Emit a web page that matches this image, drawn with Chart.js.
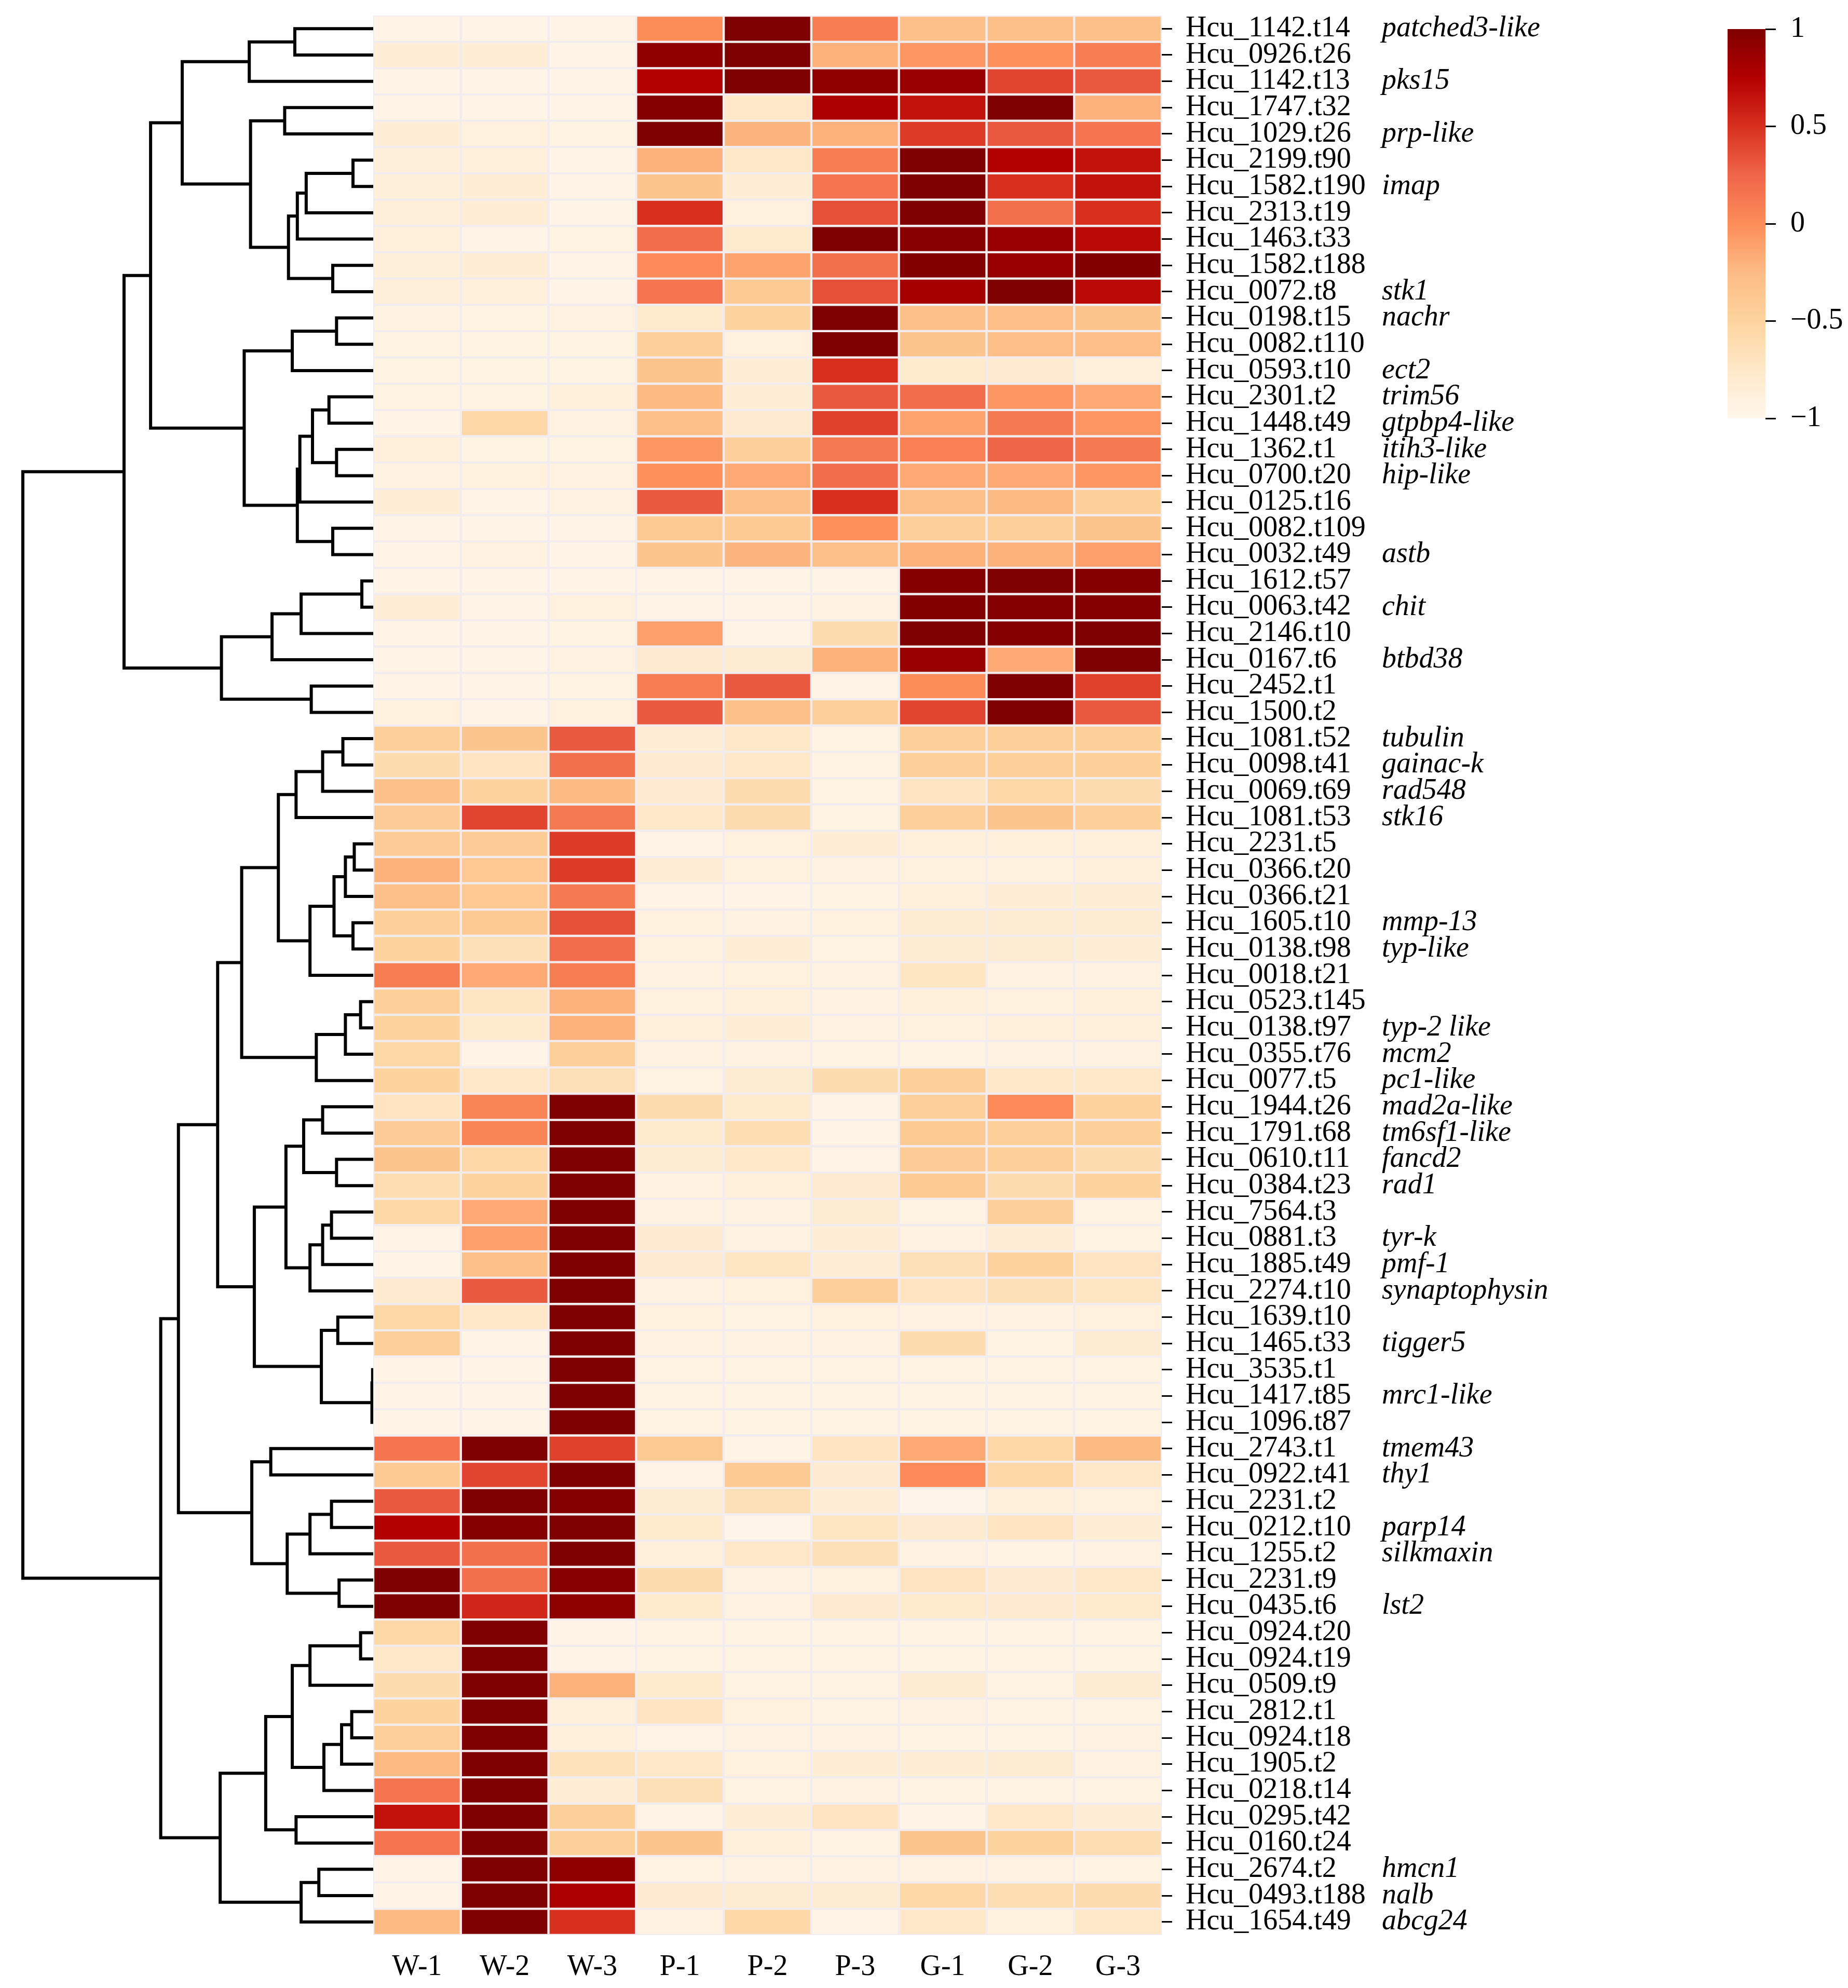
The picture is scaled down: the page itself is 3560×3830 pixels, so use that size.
<!DOCTYPE html>
<html>
<head>
<meta charset="utf-8">
<title>Heatmap</title>
<script src="https://cdn.jsdelivr.net/npm/chart.js@4.4.1/dist/chart.umd.min.js"></script>
<style>
  html, body { margin: 0; padding: 0; background: #fff; }
  body { width: 3560px; height: 3830px; position: relative; overflow: hidden; }
  canvas { position: absolute; top: 0; }
  #tree { left: 0; }
  #heat { left: 700px; }
  #bar { left: 3300px; }
</style>
</head>
<body>
<canvas id="tree" width="730" height="3830" style="width:730px;height:3830px"></canvas>
<canvas id="heat" width="2500" height="3830" style="width:2500px;height:3830px"></canvas>
<canvas id="bar" width="260" height="900" style="width:260px;height:900px"></canvas>
<script>
const sampleNames = ["W-1", "W-2", "W-3", "P-1", "P-2", "P-3", "G-1", "G-2", "G-3"];

const geneIds = ["Hcu_1142.t14", "Hcu_0926.t26", "Hcu_1142.t13", "Hcu_1747.t32", "Hcu_1029.t26",
  "Hcu_2199.t90", "Hcu_1582.t190", "Hcu_2313.t19", "Hcu_1463.t33", "Hcu_1582.t188", "Hcu_0072.t8",
  "Hcu_0198.t15", "Hcu_0082.t110", "Hcu_0593.t10", "Hcu_2301.t2", "Hcu_1448.t49", "Hcu_1362.t1",
  "Hcu_0700.t20", "Hcu_0125.t16", "Hcu_0082.t109", "Hcu_0032.t49", "Hcu_1612.t57", "Hcu_0063.t42",
  "Hcu_2146.t10", "Hcu_0167.t6", "Hcu_2452.t1", "Hcu_1500.t2", "Hcu_1081.t52", "Hcu_0098.t41",
  "Hcu_0069.t69", "Hcu_1081.t53", "Hcu_2231.t5", "Hcu_0366.t20", "Hcu_0366.t21", "Hcu_1605.t10",
  "Hcu_0138.t98", "Hcu_0018.t21", "Hcu_0523.t145", "Hcu_0138.t97", "Hcu_0355.t76", "Hcu_0077.t5",
  "Hcu_1944.t26", "Hcu_1791.t68", "Hcu_0610.t11", "Hcu_0384.t23", "Hcu_7564.t3", "Hcu_0881.t3",
  "Hcu_1885.t49", "Hcu_2274.t10", "Hcu_1639.t10", "Hcu_1465.t33", "Hcu_3535.t1", "Hcu_1417.t85",
  "Hcu_1096.t87", "Hcu_2743.t1", "Hcu_0922.t41", "Hcu_2231.t2", "Hcu_0212.t10", "Hcu_1255.t2",
  "Hcu_2231.t9", "Hcu_0435.t6", "Hcu_0924.t20", "Hcu_0924.t19", "Hcu_0509.t9", "Hcu_2812.t1",
  "Hcu_0924.t18", "Hcu_1905.t2", "Hcu_0218.t14", "Hcu_0295.t42", "Hcu_0160.t24", "Hcu_2674.t2",
  "Hcu_0493.t188", "Hcu_1654.t49"];

const geneNames = ["patched3-like", "", "pks15", "", "prp-like",
  "", "imap", "", "", "", "stk1",
  "nachr", "", "ect2", "trim56", "gtpbp4-like", "itih3-like",
  "hip-like", "", "", "astb", "", "chit",
  "", "btbd38", "", "", "tubulin", "gainac-k",
  "rad548", "stk16", "", "", "", "mmp-13",
  "typ-like", "", "", "typ-2 like", "mcm2", "pc1-like",
  "mad2a-like", "tm6sf1-like", "fancd2", "rad1", "", "tyr-k",
  "pmf-1", "synaptophysin", "", "tigger5", "", "mrc1-like",
  "", "tmem43", "thy1", "", "parp14", "silkmaxin",
  "", "lst2", "", "", "", "",
  "", "", "", "", "", "hmcn1",
  "nalb", "abcg24"];

// scaled expression, one array per sample, rows in geneIds order
const W1 = [-0.95, -0.85, -0.95, -0.95, -0.85, -0.87, -0.87, -0.87, -0.88, -0.87,
  -0.87, -0.92, -0.93, -0.93, -0.93, -0.95, -0.88, -0.92, -0.85, -0.95,
  -0.95, -0.95, -0.85, -0.95, -0.95, -0.95, -0.9, -0.45, -0.6, -0.3,
  -0.42, -0.42, -0.2, -0.3, -0.45, -0.5, 0.1, -0.45, -0.5, -0.55,
  -0.5, -0.7, -0.42, -0.35, -0.62, -0.55, -0.95, -0.95, -0.8, -0.55,
  -0.45, -0.95, -0.95, -0.95, 0.15, -0.4, 0.3, 0.75, 0.3, 1.0,
  1.0, -0.55, -0.75, -0.6, -0.5, -0.45, -0.25, 0.15, 0.65, 0.15,
  -0.95, -0.95, -0.25];
const W2 = [-0.95, -0.85, -0.95, -0.95, -0.9, -0.88, -0.85, -0.83, -0.95, -0.85,
  -0.88, -0.93, -0.93, -0.93, -0.93, -0.55, -0.93, -0.9, -0.95, -0.95,
  -0.92, -0.95, -0.95, -0.95, -0.95, -0.95, -0.95, -0.35, -0.7, -0.5,
  0.4, -0.42, -0.38, -0.38, -0.4, -0.65, -0.15, -0.72, -0.78, -0.95,
  -0.75, 0.05, 0.05, -0.55, -0.5, -0.15, -0.1, -0.3, 0.3, -0.75,
  -0.95, -0.95, -0.95, -0.95, 1.0, 0.4, 1.0, 0.97, 0.18, 0.18,
  0.55, 1.0, 1.0, 1.0, 1.0, 1.0, 1.0, 1.0, 1.0, 1.0,
  1.0, 1.0, 1.0];
const W3 = [-0.95, -0.95, -0.95, -0.95, -0.93, -0.95, -0.95, -0.95, -0.93, -0.95,
  -0.95, -0.92, -0.93, -0.93, -0.88, -0.92, -0.93, -0.92, -0.92, -0.95,
  -0.95, -0.95, -0.9, -0.93, -0.92, -0.93, -0.9, 0.3, 0.18, -0.25,
  0.12, 0.45, 0.45, 0.12, 0.35, 0.2, 0.1, -0.2, -0.2, -0.45,
  -0.65, 1.0, 1.0, 1.0, 1.0, 1.0, 1.0, 1.0, 1.0, 1.0,
  1.0, 1.0, 1.0, 1.0, 0.42, 1.0, 0.97, 1.0, 1.0, 0.95,
  0.93, -0.95, -0.95, -0.2, -0.88, -0.88, -0.68, -0.85, -0.45, -0.45,
  0.92, 0.78, 0.5];
const P1 = [0.0, 0.92, 0.75, 0.97, 1.0, -0.2, -0.35, 0.5, 0.2, 0.02,
  0.15, -0.78, -0.45, -0.35, -0.25, -0.3, -0.05, -0.02, 0.3, -0.4,
  -0.35, -0.95, -0.95, -0.1, -0.8, 0.1, 0.3, -0.85, -0.8, -0.8,
  -0.75, -0.95, -0.85, -0.95, -0.9, -0.9, -0.92, -0.9, -0.88, -0.92,
  -0.93, -0.6, -0.78, -0.82, -0.92, -0.92, -0.8, -0.8, -0.92, -0.9,
  -0.92, -0.93, -0.93, -0.93, -0.4, -0.95, -0.82, -0.78, -0.88, -0.6,
  -0.78, -0.93, -0.93, -0.78, -0.7, -0.95, -0.75, -0.65, -0.95, -0.35,
  -0.93, -0.8, -0.92];
const P2 = [1.0, 1.0, 1.0, -0.75, -0.22, -0.75, -0.85, -0.9, -0.78, -0.12,
  -0.4, -0.5, -0.9, -0.85, -0.85, -0.8, -0.45, -0.15, -0.3, -0.4,
  -0.22, -0.95, -0.95, -0.95, -0.82, 0.3, -0.3, -0.75, -0.75, -0.6,
  -0.6, -0.9, -0.9, -0.95, -0.92, -0.85, -0.9, -0.88, -0.85, -0.92,
  -0.82, -0.78, -0.62, -0.75, -0.88, -0.92, -0.92, -0.72, -0.9, -0.93,
  -0.92, -0.93, -0.93, -0.93, -0.95, -0.4, -0.65, -0.97, -0.75, -0.92,
  -0.92, -0.93, -0.93, -0.93, -0.9, -0.92, -0.9, -0.93, -0.85, -0.88,
  -0.92, -0.82, -0.55];
const P3 = [0.1, -0.2, 0.92, 0.78, -0.2, 0.1, 0.15, 0.35, 1.0, 0.18,
  0.35, 1.0, 1.0, 0.5, 0.3, 0.42, 0.12, 0.2, 0.5, -0.02,
  -0.3, -0.95, -0.92, -0.6, -0.2, -0.95, -0.45, -0.93, -0.93, -0.93,
  -0.93, -0.85, -0.92, -0.93, -0.9, -0.93, -0.92, -0.92, -0.92, -0.93,
  -0.6, -0.95, -0.95, -0.95, -0.8, -0.82, -0.85, -0.85, -0.45, -0.9,
  -0.92, -0.93, -0.93, -0.93, -0.7, -0.8, -0.85, -0.72, -0.65, -0.9,
  -0.8, -0.93, -0.93, -0.93, -0.93, -0.92, -0.85, -0.92, -0.7, -0.93,
  -0.92, -0.82, -0.95];
const G1 = [-0.3, -0.05, 0.88, 0.65, 0.45, 1.0, 1.0, 1.0, 0.95, 0.98,
  0.82, -0.3, -0.35, -0.78, 0.2, -0.12, 0.08, -0.15, -0.3, -0.45,
  -0.2, 0.97, 0.98, 1.0, 0.88, 0.0, 0.4, -0.45, -0.45, -0.7,
  -0.45, -0.88, -0.9, -0.88, -0.82, -0.82, -0.72, -0.88, -0.9, -0.93,
  -0.45, -0.45, -0.4, -0.42, -0.4, -0.93, -0.92, -0.65, -0.7, -0.92,
  -0.6, -0.93, -0.93, -0.93, -0.15, 0.02, -0.97, -0.8, -0.92, -0.7,
  -0.78, -0.93, -0.93, -0.82, -0.92, -0.93, -0.85, -0.93, -0.95, -0.35,
  -0.92, -0.55, -0.75];
const G2 = [-0.3, -0.02, 0.4, 1.0, 0.3, 0.75, 0.5, 0.18, 0.88, 0.88,
  1.0, -0.28, -0.28, -0.8, -0.05, 0.12, 0.25, -0.15, -0.25, -0.45,
  -0.2, 1.0, 0.97, 0.97, -0.15, 1.0, 1.0, -0.45, -0.45, -0.55,
  -0.35, -0.88, -0.9, -0.85, -0.82, -0.82, -0.92, -0.9, -0.88, -0.92,
  -0.75, 0.02, -0.45, -0.45, -0.6, -0.45, -0.85, -0.5, -0.65, -0.92,
  -0.93, -0.93, -0.93, -0.93, -0.55, -0.55, -0.88, -0.7, -0.93, -0.8,
  -0.8, -0.93, -0.93, -0.93, -0.93, -0.93, -0.82, -0.93, -0.75, -0.5,
  -0.92, -0.62, -0.9];
const G3 = [-0.3, 0.1, 0.3, -0.2, 0.15, 0.65, 0.65, 0.5, 0.7, 0.98,
  0.7, -0.35, -0.28, -0.88, -0.15, -0.05, 0.12, -0.05, -0.45, -0.35,
  -0.1, 0.97, 0.97, 1.0, 1.0, 0.42, 0.3, -0.45, -0.45, -0.6,
  -0.45, -0.88, -0.88, -0.85, -0.82, -0.85, -0.92, -0.88, -0.88, -0.92,
  -0.75, -0.48, -0.45, -0.6, -0.5, -0.93, -0.93, -0.7, -0.72, -0.9,
  -0.82, -0.93, -0.93, -0.93, -0.25, -0.75, -0.9, -0.85, -0.92, -0.75,
  -0.78, -0.93, -0.93, -0.82, -0.93, -0.92, -0.92, -0.93, -0.85, -0.62,
  -0.93, -0.6, -0.75];
const columns = [W1, W2, W3, P1, P2, P3, G1, G2, G3];

// row clustering: [childA, childB, height]; ids >= 73 refer to earlier merges
const linkage = [
  [0, 1, 62], [73, 2, 98], [3, 4, 70], [5, 6, 16], [76, 7, 53], [77, 8, 60],
  [9, 10, 32], [78, 79, 67], [75, 80, 97], [74, 81, 151], [11, 12, 29], [83, 13, 64],
  [14, 15, 35], [16, 17, 29], [85, 86, 48], [87, 18, 58], [19, 20, 32], [88, 89, 60],
  [84, 90, 102], [82, 91, 176], [21, 22, 9], [93, 23, 57], [94, 24, 80], [25, 26, 49],
  [95, 96, 120], [92, 97, 197],
  [27, 28, 24], [99, 29, 40], [100, 30, 61], [31, 32, 15], [102, 33, 22], [34, 35, 16],
  [103, 104, 31], [105, 36, 50], [101, 106, 75], [37, 38, 10], [108, 39, 22], [109, 40, 45],
  [107, 110, 104], [41, 42, 40], [43, 44, 29], [112, 113, 55], [45, 46, 33], [115, 47, 40],
  [116, 48, 50], [114, 117, 69], [49, 50, 28], [51, 52, 0.5], [120, 53, 1], [119, 121, 41],
  [118, 122, 94], [111, 123, 123], [54, 55, 81], [56, 57, 33], [126, 58, 50], [59, 60, 27],
  [127, 128, 68], [125, 129, 96], [124, 130, 154], [61, 62, 10], [132, 63, 50], [64, 65, 17],
  [134, 66, 25], [135, 67, 39], [133, 136, 64], [68, 69, 61], [137, 138, 85], [70, 71, 43],
  [140, 72, 57], [139, 141, 121], [131, 142, 168], [98, 143, 277]
];

const colorTicks = [-1, -0.5, 0, 0.5, 1];

const orRd = ["#fff7ec", "#fee8c8", "#fdd49e", "#fdbb84", "#fc8d59", "#ef6548", "#d7301f", "#b30000", "#7f0000"];

const serif = "'Liberation Serif', 'Times New Roman', serif";
const labelFont = { family: serif, size: 56, lineHeight: 1 };

Chart.defaults.color = "#000";
Chart.defaults.animation = false;

function hexToRgb(h) {
  return [1, 3, 5].map(i => parseInt(h.slice(i, i + 2), 16));
}

function colorFor(v) {
  const t = Math.min(Math.max((v + 1) / 2, 0), 1) * (orRd.length - 1);
  const i = Math.min(Math.floor(t), orRd.length - 2);
  const f = t - i;
  const a = hexToRgb(orRd[i]);
  const b = hexToRgb(orRd[i + 1]);
  return "rgb(" + a.map((c, k) => Math.round(c + (b[k] - c) * f)).join(",") + ")";
}

// dendrogram segments from the linkage
const n = geneIds.length;
const pos = geneIds.map((_, i) => i);
const hgt = geneIds.map(() => 0);
const segments = linkage.map(([a, b, h]) => {
  const seg = [
    { x: hgt[a], y: pos[a] }, { x: h, y: pos[a] },
    { x: h, y: pos[b] }, { x: hgt[b], y: pos[b] }
  ];
  pos.push((pos[a] + pos[b]) / 2);
  hgt.push(h);
  return seg;
});
const rootHeight = hgt[hgt.length - 1];

new Chart(document.getElementById("tree"), {
  type: "scatter",
  data: {
    datasets: segments.map(seg => ({
      data: seg,
      showLine: true,
      borderColor: "#000",
      borderWidth: 6,
      pointRadius: 0,
      clip: false
    }))
  },
  options: {
    responsive: false,
    devicePixelRatio: 1,
    layout: { padding: { left: 44, right: 11, top: 30, bottom: 102 } },
    plugins: { legend: { display: false }, tooltip: { enabled: false } },
    scales: {
      x: { type: "linear", min: 0, max: rootHeight, reverse: true, display: false },
      y: { type: "linear", min: -0.5, max: n - 0.5, reverse: true, display: false }
    }
  }
});

// italic gene names next to the ids
const geneNamePlugin = {
  id: "geneNames",
  afterDraw(chart) {
    const ctx = chart.ctx;
    const y = chart.scales.y;
    const start = chart.chartArea.right + 20 + 26;
    ctx.save();
    ctx.fillStyle = "#000";
    ctx.textBaseline = "middle";
    geneNames.forEach((name, i) => {
      if (!name) return;
      ctx.font = "56px " + serif;
      const idEnd = start + ctx.measureText(geneIds[i]).width;
      ctx.font = "italic 56px " + serif;
      ctx.fillText(name, Math.max(idEnd + 20, 1962), y.getPixelForValue(i));
    });
    ctx.restore();
  }
};

new Chart(document.getElementById("heat"), {
  type: "bar",
  data: {
    labels: geneIds,
    datasets: columns.map((col, c) => ({
      label: sampleNames[c],
      data: col.map(() => [c, c + 1]),
      backgroundColor: col.map(colorFor),
      borderColor: "#f2ecef",
      borderWidth: 2.5,
      borderSkipped: false,
      barPercentage: 1,
      categoryPercentage: 1,
      grouped: false
    }))
  },
  options: {
    indexAxis: "y",
    responsive: false,
    devicePixelRatio: 1,
    layout: { padding: { left: 19, top: 30, right: 0, bottom: 0 } },
    plugins: { legend: { display: false }, tooltip: { enabled: false } },
    scales: {
      x: {
        type: "linear",
        min: 0,
        max: sampleNames.length,
        position: "bottom",
        grid: { display: false },
        border: { display: false },
        afterBuildTicks: s => { s.ticks = sampleNames.map((_, i) => ({ value: i + 0.5 })); },
        afterFit: s => { s.height = 102; },
        ticks: {
          callback: (v, i) => sampleNames[i],
          font: labelFont,
          padding: 26,
          maxRotation: 0,
          autoSkip: false
        }
      },
      y: {
        type: "category",
        position: "right",
        offset: true,
        grid: {
          display: true,
          offset: false,
          drawOnChartArea: false,
          drawTicks: true,
          tickLength: 20,
          tickWidth: 3,
          tickColor: "#000"
        },
        border: { display: false },
        afterFit: s => { s.width = 962; s.paddingTop = 0; s.paddingBottom = 0; },
        ticks: { font: labelFont, padding: 26, autoSkip: false }
      }
    }
  },
  plugins: [geneNamePlugin]
});

// colour key
new Chart(document.getElementById("bar"), {
  type: "bar",
  data: {
    labels: ["key"],
    datasets: [{
      data: [[colorTicks[0], colorTicks[colorTicks.length - 1]]],
      backgroundColor: ctx => {
        const area = ctx.chart.chartArea;
        if (!area) return orRd[4];
        const g = ctx.chart.ctx.createLinearGradient(0, area.bottom, 0, area.top);
        orRd.forEach((c, i) => g.addColorStop(i / (orRd.length - 1), c));
        return g;
      },
      borderWidth: 0,
      barPercentage: 1,
      categoryPercentage: 1
    }]
  },
  options: {
    responsive: false,
    devicePixelRatio: 1,
    layout: { padding: { left: 28, top: 54, right: 0, bottom: 94 } },
    plugins: { legend: { display: false }, tooltip: { enabled: false } },
    scales: {
      x: { display: false },
      y: {
        type: "linear",
        position: "right",
        min: colorTicks[0],
        max: colorTicks[colorTicks.length - 1],
        afterBuildTicks: s => { s.ticks = colorTicks.map(v => ({ value: v })); },
        afterFit: s => { s.width = 159; },
        grid: {
          display: true,
          drawOnChartArea: false,
          drawTicks: true,
          tickLength: 20,
          tickWidth: 3,
          tickColor: "#000"
        },
        border: { display: false },
        ticks: {
          font: labelFont,
          padding: 28,
          callback: v => String(v).replace("-", "\u2212")
        }
      }
    }
  }
});
</script>
</body>
</html>
